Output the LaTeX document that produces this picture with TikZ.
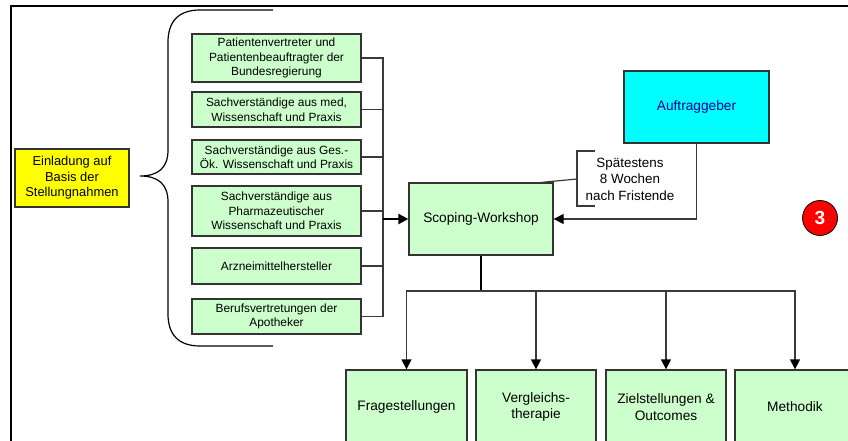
\documentclass[tikz,border=0pt]{standalone}
\usepackage{fontspec}
\setmainfont{Liberation Sans}
\usetikzlibrary{arrows.meta}
\definecolor{boxgreen}{HTML}{CCFFCC}
\definecolor{boxborder}{HTML}{333333}
\definecolor{linegray}{HTML}{3A3A3A}
\definecolor{aufblue}{HTML}{000099}
\definecolor{aufcyan}{HTML}{00FFFF}
\definecolor{einlyellow}{HTML}{FFFF00}
\definecolor{badgered}{HTML}{FF0000}
\begin{document}
\begin{tikzpicture}[x=1pt,y=-1pt,
  gbox/.style={draw=boxborder,line width=1.3pt,fill=boxgreen,inner sep=0pt,align=center,
    font=\fontsize{11.9}{14.5}\selectfont},
  bigtext/.style={font=\fontsize{13.7}{16.5}\selectfont},
  conn/.style={draw=linegray,line width=1.3pt},
  thick conn/.style={draw=black,line width=2.2pt},
  arr/.style={-{Triangle[length=10pt,width=10pt,color=black,fill=black]}}
]
\useasboundingbox (0,0) rectangle (848,441);
\clip (0,0) rectangle (848,441);
% outer frame
\draw[line width=2.4pt] (11,470) -- (11,6) -- (870,6);

% yellow box
\node[draw=boxborder,line width=1.3pt,fill=einlyellow,inner sep=0pt,align=center,
  minimum width=114pt,minimum height=58pt,font=\fontsize{12.9}{15.5}\selectfont]
  (einl) at (72,178) {Einladung auf\\Basis der\\Stellungnahmen};

% brace
\draw[line width=1.2pt] (273,10) -- (200,10)
  .. controls (178,10) and (168,22) .. (168,42) -- (168,150)
  .. controls (168,168) and (158,176) .. (140,176)
  .. controls (158,176) and (168,184) .. (168,202) -- (168,314)
  .. controls (168,334) and (178,346) .. (200,346) -- (273,346);

% left column
\node[gbox,minimum width=169pt,minimum height=48pt] (b1) at (276.5,58) {Patientenvertreter und\\Patientenbeauftragter der\\Bundesregierung};
\node[gbox,minimum width=169pt,minimum height=35pt] (b2) at (276.5,109.5) {Sachverständige aus med,\\Wissenschaft und Praxis};
\node[gbox,minimum width=169pt,minimum height=34pt] (b3) at (276.5,157) {Sachverständige aus Ges.-\\Ök. Wissenschaft und Praxis};
\node[gbox,minimum width=169pt,minimum height=50pt] (b4) at (276.5,211) {Sachverständige aus\\Pharmazeutischer\\Wissenschaft und Praxis};
\node[gbox,minimum width=169pt,minimum height=36pt] (b5) at (276.5,266) {Arzneimittelhersteller};
\node[gbox,minimum width=169pt,minimum height=35pt] (b6) at (276.5,316.5) {Berufsvertretungen der\\Apotheker};

% scoping workshop
\node[gbox,bigtext,minimum width=144pt,minimum height=72pt] (sw) at (481,219) {Scoping-Workshop};

% Auftraggeber
\node[draw=boxborder,line width=1.3pt,fill=aufcyan,inner sep=0pt,minimum width=145pt,minimum height=72pt,
  text=aufblue,bigtext] (auf) at (696.5,107) {Auftraggeber};

% bus for left column
\coordinate (bus) at (383,219);
\foreach \b in {b1,b2,b3,b4,b5,b6}{
  \draw[conn] (\b.east) -| (bus);
}
\draw[thick conn,arr] (bus) -- (sw.west);

% Auftraggeber to scoping
\draw[conn,arr] (auf.south) |- (sw.east);

% callout
\node[align=center,inner sep=0pt,font=\fontsize{13.4}{16.5}\selectfont] (callout) at (630,179) {Spätestens\\8 Wochen\\nach Fristende};
\draw[line width=1.2pt,draw=linegray] (595,151) -- (577,151) -- (577,206) -- (595,206);
\coordinate (cpt) at (577,179);
\draw[line width=1.2pt,draw=linegray] (cpt) -- ([xshift=-12pt]sw.north east);

% red badge
\node[circle,draw=black,line width=0.8pt,fill=badgered,minimum size=35pt,inner sep=0pt,text=white,
  font=\fontsize{19}{19}\selectfont\bfseries] (badge) at (820,218) {3};

% bottom boxes
\node[gbox,bigtext,minimum width=121pt,minimum height=74pt] (f1) at (406.5,407) {Fragestellungen};
\node[gbox,bigtext,minimum width=120pt,minimum height=74pt] (f2) at (536,407) {Vergleichs-\\therapie};
\node[gbox,bigtext,minimum width=120pt,minimum height=74pt] (f3) at (666,407) {Zielstellungen \&\\Outcomes};
\node[gbox,bigtext,minimum width=120pt,minimum height=74pt] (f4) at (795,407) {Methodik};

\coordinate (split) at (481,291);
\draw[thick conn] (sw.south) -- (split);
\foreach \f in {f1,f2,f3,f4}{
  \draw[conn,arr] (split) -| (\f.north);
}
\end{tikzpicture}
\end{document}
